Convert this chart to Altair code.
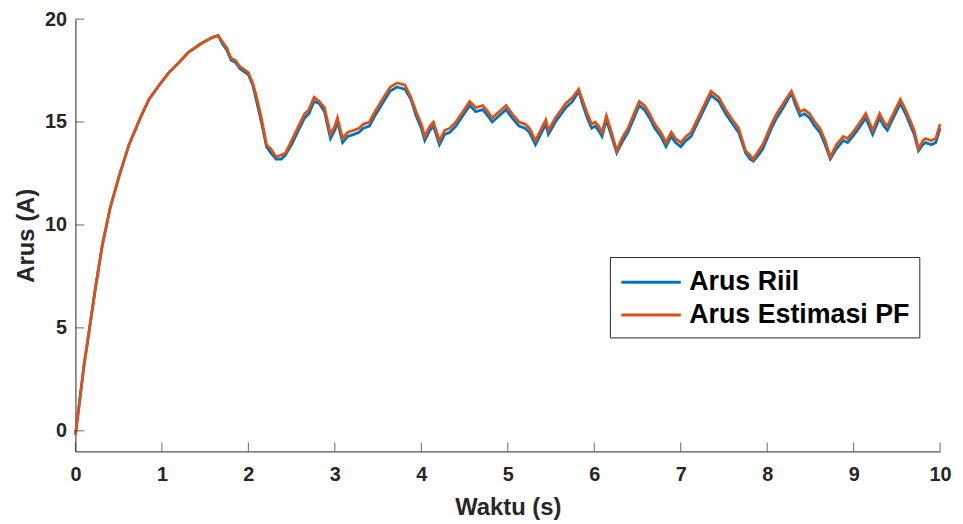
import altair as alt
import pandas as pd

# time (s)
t = [0.00, 0.05, 0.10, 0.16, 0.23, 0.31, 0.40, 0.50, 0.62, 0.75, 0.85, 0.97, 1.08, 1.20, 1.31, 1.45, 1.58,
     1.65, 1.70, 1.75, 1.80, 1.85, 1.90, 2.00, 2.05, 2.09, 2.15, 2.21, 2.26, 2.32, 2.38, 2.43, 2.50, 2.58,
     2.65, 2.70, 2.76, 2.82, 2.88, 2.95, 3.00, 3.03, 3.09, 3.15, 3.22, 3.28, 3.33, 3.40, 3.45, 3.55, 3.64,
     3.72, 3.81, 3.88, 3.94, 4.00, 4.04, 4.10, 4.14, 4.21, 4.27, 4.33, 4.40, 4.48, 4.56, 4.63, 4.71, 4.77,
     4.82, 4.90, 4.98, 5.05, 5.13, 5.20, 5.25, 5.32, 5.38, 5.44, 5.47, 5.55, 5.62, 5.67, 5.75, 5.82, 5.87,
     5.92, 5.97, 6.01, 6.05, 6.09, 6.14, 6.20, 6.26, 6.32, 6.39, 6.45, 6.52, 6.58, 6.64, 6.70, 6.77, 6.83,
     6.89, 6.94, 7.00, 7.06, 7.12, 7.20, 7.28, 7.35, 7.44, 7.52, 7.60, 7.67, 7.75, 7.80, 7.84, 7.90, 7.95,
     8.00, 8.05, 8.11, 8.20, 8.28, 8.33, 8.38, 8.43, 8.49, 8.55, 8.61, 8.67, 8.73, 8.80, 8.88, 8.93, 8.99,
     9.06, 9.14, 9.22, 9.30, 9.35, 9.39, 9.47, 9.54, 9.60, 9.64, 9.70, 9.75, 9.80, 9.83, 9.90, 9.95, 10.00]

# Arus Estimasi PF (A)
arus_pf = [-0.2, 1.5, 3.2, 4.9, 6.9, 9.0, 10.8, 12.3, 13.9, 15.2, 16.1, 16.8, 17.4, 17.9, 18.4, 18.8, 19.1,
           19.2, 18.9, 18.6, 18.1, 18.0, 17.7, 17.4, 16.9, 16.3, 15.2, 13.9, 13.7, 13.3, 13.4, 13.5, 14.1, 14.8,
           15.4, 15.6, 16.2, 16.0, 15.7, 14.4, 14.8, 15.2, 14.2, 14.5, 14.6, 14.7, 14.9, 15.0, 15.4, 16.1, 16.7,
           16.9, 16.8, 16.2, 15.5, 14.9, 14.3, 14.8, 15.0, 14.1, 14.6, 14.7, 15.0, 15.5, 16.0, 15.7, 15.8, 15.5,
           15.2, 15.5, 15.8, 15.4, 15.0, 14.9, 14.7, 14.1, 14.6, 15.1, 14.6, 15.2, 15.6, 15.9, 16.2, 16.6, 16.0,
           15.4, 14.9, 15.0, 14.8, 14.5, 15.3, 14.5, 13.6, 14.2, 14.7, 15.3, 16.0, 15.8, 15.4, 14.9, 14.5, 14.0,
           14.5, 14.2, 14.0, 14.3, 14.5, 15.2, 15.9, 16.5, 16.2, 15.6, 15.1, 14.7, 13.6, 13.4, 13.2, 13.6, 13.9,
           14.4, 14.9, 15.4, 16.0, 16.5, 16.0, 15.5, 15.6, 15.4, 15.0, 14.7, 14.1, 13.3, 13.9, 14.3, 14.2, 14.5,
           14.9, 15.4, 14.6, 15.4, 15.0, 14.8, 15.5, 16.1, 15.6, 15.2, 14.6, 13.7, 14.1, 14.2, 14.1, 14.2, 14.9]

# Arus Riil (A)
arus_riil = [-0.2, 1.5, 3.2, 4.9, 6.9, 9.0, 10.8, 12.3, 13.9, 15.2, 16.1, 16.8, 17.4, 17.9, 18.4, 18.8, 19.1,
             19.2, 18.8, 18.5, 18.0, 17.9, 17.6, 17.3, 16.8, 16.1, 15.0, 13.8, 13.5, 13.2, 13.2, 13.4, 13.9, 14.6,
             15.2, 15.4, 16.0, 15.9, 15.5, 14.2, 14.6, 15.0, 14.0, 14.3, 14.4, 14.5, 14.7, 14.8, 15.2, 15.9, 16.5,
             16.7, 16.6, 16.1, 15.3, 14.7, 14.1, 14.6, 14.8, 13.9, 14.4, 14.5, 14.8, 15.3, 15.8, 15.5, 15.6, 15.3,
             15.0, 15.3, 15.6, 15.2, 14.8, 14.7, 14.5, 13.9, 14.4, 14.9, 14.4, 15.0, 15.4, 15.7, 16.0, 16.5, 15.8,
             15.2, 14.7, 14.8, 14.6, 14.3, 15.1, 14.3, 13.5, 14.0, 14.5, 15.1, 15.8, 15.6, 15.2, 14.7, 14.3, 13.8,
             14.3, 14.0, 13.8, 14.1, 14.3, 15.0, 15.7, 16.3, 16.0, 15.4, 14.9, 14.5, 13.5, 13.2, 13.1, 13.4, 13.7,
             14.2, 14.7, 15.2, 15.8, 16.4, 15.8, 15.3, 15.4, 15.2, 14.8, 14.5, 13.9, 13.2, 13.7, 14.1, 14.0, 14.3,
             14.7, 15.2, 14.4, 15.2, 14.8, 14.6, 15.3, 15.9, 15.4, 15.0, 14.4, 13.6, 13.9, 14.0, 13.9, 14.0, 14.7]

series_names = ["Arus Riil", "Arus Estimasi PF"]
series_colors = ["#0072BD", "#D95319"]
x_ticks = [0, 1, 2, 3, 4, 5, 6, 7, 8, 9, 10]
y_ticks = [0, 5, 10, 15, 20]

W, H = 872, 436
FONT = "Liberation Sans"
AX = "#262626"

df = pd.DataFrame({
    "t": t * 2,
    "arus": arus_riil + arus_pf,
    "series": [series_names[0]] * len(t) + [series_names[1]] * len(t),
})

xscale = alt.Scale(domain=[0, 10], nice=False, zero=False)
yscale = alt.Scale(domain=[-1, 20], nice=False, zero=False)
cscale = alt.Scale(domain=series_names, range=series_colors)

xaxis = alt.Axis(values=x_ticks, format="d", tickSize=0, labelPadding=13, labelFontSize=20, labelFont=FONT,
                 labelFontWeight="bold", labelColor=AX, labelFlush=False, domainColor=AX, domainWidth=1,
                 grid=False, title="Waktu (s)", titleFont=FONT, titleFontSize=24, titleFontWeight="bold",
                 titleColor=AX, titleBaseline="alphabetic", titleY=64, titleX=W / 2)
yaxis = alt.Axis(values=y_ticks, format="d", tickSize=0, labelPadding=9, labelFontSize=20, labelFont=FONT,
                 labelFontWeight="bold", labelColor=AX, labelFlush=False, domainColor=AX, domainWidth=1,
                 grid=False, title="Arus (A)", titleFont=FONT, titleFontSize=24, titleFontWeight="bold",
                 titleColor=AX, titleBaseline="alphabetic", titleX=-42, titleY=H / 2, titleAngle=270)

legend = alt.Legend(title=None, orient="none", legendX=539, legendY=240, strokeColor="#262626",
                    fillColor="white", padding=9, labelFont=FONT, labelFontSize=27,
                    labelFontWeight="bold", labelColor="black", labelLimit=400,
                    symbolType="M-2,0L2,0", symbolStrokeWidth=3, symbolSize=900,
                    symbolOffset=16, rowPadding=3, labelOffset=22)

base = alt.Chart(df)

blue = base.transform_filter(alt.datum.series == series_names[0]).mark_line(strokeWidth=2.8).encode(
    x=alt.X("t:Q", scale=xscale, axis=xaxis),
    y=alt.Y("arus:Q", scale=yscale, axis=yaxis),
    color=alt.Color("series:N", scale=cscale, legend=legend, sort=series_names),
)
orange = base.transform_filter(alt.datum.series == series_names[1]).mark_line(strokeWidth=2.8).encode(
    x=alt.X("t:Q", scale=xscale),
    y=alt.Y("arus:Q", scale=yscale),
    color=alt.Color("series:N", scale=cscale, legend=legend, sort=series_names),
)

xt = alt.Chart(pd.DataFrame({"v": x_ticks})).mark_tick(orient="vertical", size=9, thickness=1, color=AX).encode(
    x=alt.X("v:Q", scale=xscale), y=alt.value(H - 4.5))
yt = alt.Chart(pd.DataFrame({"v": y_ticks})).mark_tick(orient="horizontal", size=9, thickness=1, color=AX).encode(
    y=alt.Y("v:Q", scale=yscale), x=alt.value(4.5))

chart = alt.layer(blue, orange, xt, yt).properties(
    width=W, height=H,
    autosize=alt.AutoSizeParams(type="none"),
    padding={"left": 68, "top": 9, "right": 15, "bottom": 68},
    background="white",
).configure_view(stroke=None)

chart.save("out.html", embed_options={"renderer": "svg", "actions": False})
